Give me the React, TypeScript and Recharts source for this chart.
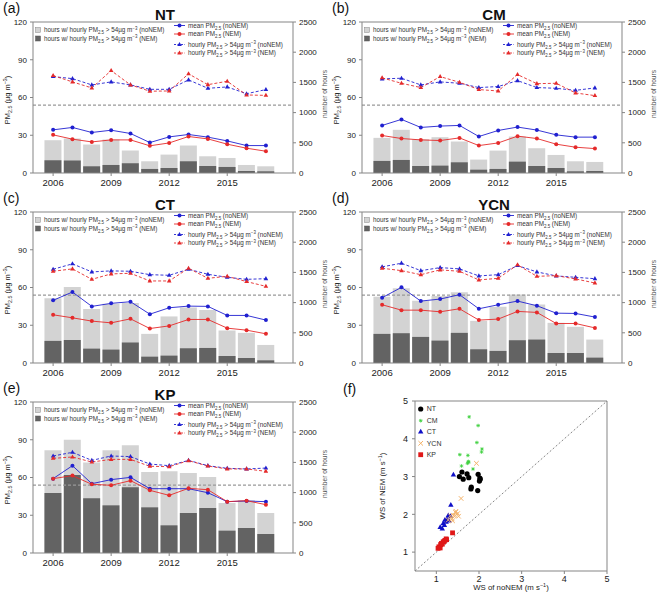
import React from 'react'
import {
  ComposedChart,
  Bar,
  Line,
  XAxis,
  YAxis,
  ReferenceLine,
  ScatterChart,
  Scatter,
} from 'recharts'

const YEARS = [2006, 2007, 2008, 2009, 2010, 2011, 2012, 2013, 2014, 2015, 2016, 2017]
const YEAR_TICKS = [2006, 2009, 2012, 2015]
const PM_TICKS = [0, 30, 60, 90, 120]
const HOUR_TICKS = [0, 500, 1000, 1500, 2000, 2500]
const WS_TICKS = [1, 2, 3, 4, 5]

// NT
const NT_MEAN_NONEM = [34.3, 36.2, 32.2, 34.0, 31.4, 24.2, 28.7, 30.6, 28.5, 25.5, 21.8, 21.8]
const NT_MEAN_NEM = [30.3, 26.9, 24.7, 26.3, 26.3, 21.6, 23.9, 29.0, 27.1, 22.9, 19.7, 17.3]
const NT_HOURLY_NONEM = [76.6, 75.0, 70.0, 72.4, 70.0, 66.5, 66.5, 74.0, 67.3, 68.4, 63.0, 66.3]
const NT_HOURLY_NEM = [77.4, 72.4, 67.6, 81.4, 70.0, 65.0, 65.2, 78.8, 70.2, 72.9, 62.0, 61.7]
const NT_HOURS_NONEM = [543, 571, 471, 554, 371, 194, 305, 455, 277, 249, 133, 111]
const NT_HOURS_NEM = [211, 205, 111, 133, 161, 67, 83, 194, 116, 100, 33, 28]

// CM
const CM_MEAN_NONEM = [37.8, 42.6, 36.2, 37.3, 37.8, 29.0, 33.8, 36.5, 34.1, 30.3, 28.5, 28.5]
const CM_MEAN_NEM = [29.8, 27.4, 26.3, 25.8, 27.9, 21.8, 23.9, 29.3, 27.4, 22.9, 20.5, 19.4]
const CM_HOURLY_NONEM = [74.8, 75.3, 70.0, 72.4, 71.3, 67.9, 68.7, 73.4, 67.9, 67.3, 65.7, 67.6]
const CM_HOURLY_NEM = [75.6, 71.3, 67.9, 76.6, 72.1, 66.3, 65.2, 78.2, 71.0, 71.3, 63.6, 61.5]
const CM_HOURS_NONEM = [582, 715, 560, 593, 521, 222, 371, 604, 410, 299, 194, 183]
const CM_HOURS_NEM = [200, 216, 116, 122, 177, 55, 67, 188, 116, 83, 28, 33]

// CT
const CT_MEAN_NONEM = [49.8, 56.4, 45.0, 47.4, 48.7, 38.8, 43.9, 45.2, 45.0, 37.8, 37.8, 34.1]
const CT_MEAN_NEM = [38.3, 35.9, 33.3, 31.9, 35.1, 27.4, 29.5, 34.6, 34.6, 27.7, 26.1, 23.2]
const CT_HOURLY_NONEM = [74.5, 78.8, 72.4, 73.2, 72.9, 70.2, 69.7, 74.5, 70.5, 68.1, 66.5, 67.0]
const CT_HOURLY_NEM = [72.9, 74.8, 66.5, 70.8, 71.3, 65.2, 65.2, 75.3, 67.3, 68.9, 64.7, 60.9]
const CT_HOURS_NONEM = [1070, 1258, 892, 981, 992, 482, 771, 920, 876, 538, 499, 299]
const CT_HOURS_NEM = [366, 382, 238, 222, 338, 105, 122, 244, 249, 116, 83, 44]

// YCN
const YCN_MEAN_NONEM = [51.9, 60.1, 49.2, 50.8, 54.3, 43.1, 46.3, 49.2, 45.5, 39.6, 39.4, 36.5]
const YCN_MEAN_NEM = [46.3, 42.0, 42.0, 40.7, 43.1, 34.1, 34.9, 41.0, 40.2, 31.4, 31.4, 27.9]
const YCN_HOURLY_NONEM = [76.4, 79.3, 73.4, 75.8, 74.8, 69.2, 70.2, 77.4, 72.4, 69.2, 68.1, 67.0]
const YCN_HOURLY_NEM = [75.3, 73.4, 70.2, 74.0, 72.9, 66.0, 67.3, 78.0, 68.9, 69.4, 66.8, 63.6]
const YCN_HOURS_NONEM = [1098, 1236, 1031, 1109, 1170, 698, 931, 1136, 970, 665, 599, 388]
const YCN_HOURS_NEM = [482, 493, 432, 371, 499, 227, 200, 377, 388, 166, 166, 89]

// KP
const KP_MEAN_NONEM = [59.1, 69.4, 55.1, 58.3, 60.1, 51.1, 51.1, 51.1, 47.9, 40.8, 41.3, 40.8]
const KP_MEAN_NEM = [59.1, 61.5, 54.6, 53.8, 57.5, 49.8, 45.8, 51.4, 50.3, 40.8, 41.6, 38.4]
const KP_HOURLY_NONEM = [77.1, 80.0, 73.6, 77.1, 76.6, 70.7, 69.4, 73.6, 69.4, 67.3, 66.8, 67.5]
const KP_HOURLY_NEM = [75.2, 76.3, 72.3, 74.4, 74.4, 68.9, 68.6, 73.4, 69.1, 66.8, 66.8, 64.9]
const KP_HOURS_NONEM = [1700, 1876, 1500, 1700, 1782, 1341, 1352, 1325, 1258, 828, 872, 662]
const KP_HOURS_NEM = [993, 1291, 905, 789, 1087, 756, 458, 662, 745, 370, 414, 315]

// wind speed, (f)
const NT_WS_NONEM = [1.6, 1.54, 1.63, 1.72, 1.76, 1.98, 2.02, 2.01, 1.82, 1.81, 1.97, 2.03]
const NT_WS_NEM = [3.12, 3.0, 2.93, 3.07, 2.97, 3.06, 2.96, 2.88, 2.72, 2.67, 2.63, 2.93]
const CM_WS_NONEM = [1.77, 1.98, 1.95, 2.07, 2.06, 1.55, 1.74, 1.75, 1.73, 1.59, 1.86, 1.76]
const CM_WS_NEM = [4.58, 4.35, 3.9, 3.73, 3.65, 3.58, 3.56, 3.4, 3.35, 3.28, 3.2, 3.38]
const CT_WS_NONEM = [1.4, 1.34, 1.28, 1.33, 1.2, 1.16, 1.19, 1.09, 1.14, 1.25, 1.23, 1.3]
const CT_WS_NEM = [3.05, 2.25, 1.97, 1.95, 1.85, 1.76, 1.71, 1.66, 1.62, 1.87, 1.8, 1.83]
const YCN_WS_NONEM = [1.94, 1.58, 1.46, 1.5, 1.4, 1.52, 1.37, 1.38, 1.44, 1.33, 1.45, 1.28]
const YCN_WS_NEM = [3.35, 2.42, 2.08, 2.02, 1.97, 1.95, 1.88, 1.83, 1.97, 1.96, 2.05, 1.85]
const KP_WS_NONEM = [1.38, 1.23, 1.2, 1.16, 1.12, 1.1, 1.06, 1.09, 1.14, 1.18, 1.24, 1.04]
const KP_WS_NEM = [1.51, 1.35, 1.31, 1.27, 1.23, 1.2, 1.14, 1.11, 1.21, 1.28, 1.33, 1.1]

const BLUE = '#2020d0'
const RED = '#e52a2a'
const LIGHT = '#d3d3d3'
const DARK = '#636363'
const AXIS = '#858585'
const TXT = '#222'

const rowsOf = (mNo: number[], mNem: number[], hNo: number[], hNem: number[], nNo: number[], nNem: number[]) =>
  YEARS.map((year, i) => ({
    year,
    meanNo: mNo[i],
    meanNem: mNem[i],
    hourlyNo: hNo[i],
    hourlyNem: hNem[i],
    hoursNo: nNo[i],
    hoursNem: nNem[i],
  }))

const pairs = (xs: number[], ys: number[]) => xs.map((x, i) => ({ x, y: ys[i] }))

// text pieces: [text, 'n' | 'sub' | 'sup'] -> tspans with baseline shifts
type Piece = [string, 'n' | 'sub' | 'sup']
function rich(parts: Piece[], fs: number) {
  let cur = 0
  return parts.map(([t, k], i) => {
    const target = k === 'sub' ? fs * 0.28 : k === 'sup' ? -fs * 0.38 : 0
    const dy = target - cur
    cur = target
    return (
      <tspan key={i} dy={dy} fontSize={k === 'n' ? fs : fs * 0.7}>
        {t}
      </tspan>
    )
  })
}

const triDot = (color: string) => (p: any) => (
  <path
    key={p.index}
    d={`M${p.cx},${p.cy - 2.6}L${p.cx + 2.3},${p.cy + 1.5}L${p.cx - 2.3},${p.cy + 1.5}Z`}
    fill={color}
  />
)

function Panel({ left, top, rows }: { left: number; top: number; rows: any[] }) {
  const tick = { fontSize: 8, fill: TXT }
  return (
    <div style={{ position: 'absolute', left, top }}>
      <ComposedChart
        width={329}
        height={190}
        data={rows}
        margin={{ top: 22, right: 0, bottom: 0, left: 0 }}
        barSize={17}
        barGap={-17}
      >
        <XAxis
          dataKey="year"
          type="number"
          domain={[2004.96, 2018.4]}
          ticks={YEAR_TICKS}
          allowDataOverflow
          height={17}
          tickSize={3}
          tickMargin={3}
          stroke={AXIS}
          tick={{ fontSize: 9.5, fill: TXT }}
        />
        <YAxis
          yAxisId="pm"
          domain={[0, 120]}
          ticks={PM_TICKS}
          width={33}
          tickSize={3}
          tickMargin={3}
          stroke={AXIS}
          tick={tick}
        />
        <YAxis
          yAxisId="hr"
          orientation="right"
          domain={[0, 2500]}
          ticks={HOUR_TICKS}
          width={36}
          tickSize={3}
          tickMargin={3}
          stroke={AXIS}
          tick={tick}
        />
        <Bar yAxisId="hr" dataKey="hoursNo" fill={LIGHT} isAnimationActive={false} />
        <Bar yAxisId="hr" dataKey="hoursNem" fill={DARK} isAnimationActive={false} />
        <ReferenceLine yAxisId="pm" y={54} stroke="#999" strokeDasharray="3 2" strokeWidth={1.2} />
        <ReferenceLine yAxisId="pm" y={120} stroke={AXIS} />
        <Line
          yAxisId="pm"
          dataKey="hourlyNo"
          stroke={BLUE}
          strokeWidth={0.9}
          strokeDasharray="3 2"
          dot={triDot(BLUE)}
          isAnimationActive={false}
        />
        <Line
          yAxisId="pm"
          dataKey="hourlyNem"
          stroke={RED}
          strokeWidth={0.9}
          strokeDasharray="3 2"
          dot={triDot(RED)}
          isAnimationActive={false}
        />
        <Line
          yAxisId="pm"
          dataKey="meanNo"
          stroke={BLUE}
          strokeWidth={0.9}
          dot={{ r: 2, fill: BLUE, stroke: 'none' }}
          isAnimationActive={false}
        />
        <Line
          yAxisId="pm"
          dataKey="meanNem"
          stroke={RED}
          strokeWidth={0.9}
          dot={{ r: 2, fill: RED, stroke: 'none' }}
          isAnimationActive={false}
        />
      </ComposedChart>
    </div>
  )
}

function PanelText({ ox, oy, letter, title }: { ox: number; oy: number; letter: string; title: string }) {
  const fs = 6.3
  const hoursLabel = (tail: string): Piece[] => [
    ['hours w/ hourly PM', 'n'],
    ['2.5', 'sub'],
    [' > 54µg m', 'n'],
    ['−3', 'sup'],
    [tail, 'n'],
  ]
  const l2 = [
    { y: 25.5, c: BLUE, dash: false, parts: [['mean PM', 'n'], ['2.5', 'sub'], [' (noNEM)', 'n']] as Piece[] },
    { y: 34, c: RED, dash: false, parts: [['mean PM', 'n'], ['2.5', 'sub'], [' (NEM)', 'n']] as Piece[] },
    {
      y: 44.5,
      c: BLUE,
      dash: true,
      parts: [['hourly PM', 'n'], ['2.5', 'sub'], [' > 54µg m', 'n'], ['−3', 'sup'], [' (noNEM)', 'n']] as Piece[],
    },
    {
      y: 53,
      c: RED,
      dash: true,
      parts: [['hourly PM', 'n'], ['2.5', 'sub'], [' > 54µg m', 'n'], ['−3', 'sup'], [' (NEM)', 'n']] as Piece[],
    },
  ]
  return (
    <g style={{ whiteSpace: 'pre' }}>
      <text x={ox + 3} y={oy + 13} fontSize={14} fill="#111">{letter}</text>
      <text x={ox + 165} y={oy + 20} fontSize={15} fontWeight="bold" textAnchor="middle" fill="#111">
        {title}
      </text>
      <text transform={`translate(${ox + 10},${oy + 100}) rotate(-90)`} textAnchor="middle" fill={TXT}>
        {rich([['PM', 'n'], ['2.5', 'sub'], [' (µg m', 'n'], ['−3', 'sup'], [')', 'n']], 7.5)}
      </text>
      <text transform={`translate(${ox + 327},${oy + 94}) rotate(-90)`} textAnchor="middle" fontSize={6.6} fill="#555">
        number of hours
      </text>
      <rect x={ox + 35.5} y={oy + 27.5} width={5} height={5} fill={LIGHT} stroke="#888" strokeWidth={0.5} />
      <rect x={ox + 35.5} y={oy + 36} width={5} height={5} fill={DARK} stroke="#555" strokeWidth={0.5} />
      <text x={ox + 44} y={oy + 32.3} fill="#333">
        {rich(hoursLabel(' (noNEM)'), fs)}
      </text>
      <text x={ox + 44} y={oy + 40.8} fill="#333">
        {rich(hoursLabel(' (NEM)'), fs)}
      </text>
      {l2.map((r) => (
        <g key={r.y}>
          <line
            x1={ox + 174}
            x2={ox + 185}
            y1={oy + r.y}
            y2={oy + r.y}
            stroke={r.c}
            strokeWidth={0.9}
            strokeDasharray={r.dash ? '2 1.5' : undefined}
          />
          {r.dash ? (
            <path
              d={`M${ox + 179.5},${oy + r.y - 2.5}L${ox + 181.8},${oy + r.y + 1.5}L${ox + 177.2},${oy + r.y + 1.5}Z`}
              fill={r.c}
            />
          ) : (
            <circle cx={ox + 179.5} cy={oy + r.y} r={2} fill={r.c} />
          )}
          <text x={ox + 188} y={oy + r.y + 2.3} fill="#333">
            {rich(r.parts, fs)}
          </text>
        </g>
      ))}
    </g>
  )
}

const circleShape = (p: any) => <circle cx={p.cx} cy={p.cy} r={2.6} fill="#000" />
const starShape = (p: any) => (
  <g stroke="#3fd03f" strokeWidth={0.8}>
    <line x1={p.cx - 1.8} x2={p.cx + 1.8} y1={p.cy} y2={p.cy} />
    <line x1={p.cx} x2={p.cx} y1={p.cy - 1.8} y2={p.cy + 1.8} />
    <line x1={p.cx - 1.3} x2={p.cx + 1.3} y1={p.cy - 1.3} y2={p.cy + 1.3} />
    <line x1={p.cx - 1.3} x2={p.cx + 1.3} y1={p.cy + 1.3} y2={p.cy - 1.3} />
  </g>
)
const triShape = (p: any) => (
  <path d={`M${p.cx},${p.cy - 3}L${p.cx + 2.7},${p.cy + 1.8}L${p.cx - 2.7},${p.cy + 1.8}Z`} fill="#1010c8" />
)
const crossShape = (p: any) => (
  <g stroke="#f4b36a" strokeWidth={1}>
    <line x1={p.cx - 2.3} x2={p.cx + 2.3} y1={p.cy - 2.3} y2={p.cy + 2.3} />
    <line x1={p.cx - 2.3} x2={p.cx + 2.3} y1={p.cy + 2.3} y2={p.cy - 2.3} />
  </g>
)
const squareShape = (p: any) => <rect x={p.cx - 2.4} y={p.cy - 2.4} width={4.8} height={4.8} fill="#e01818" />

function WindPanel() {
  const tick = { fontSize: 9, fill: TXT }
  return (
    <div style={{ position: 'absolute', left: 329, top: 380 }}>
      <ScatterChart width={330} height={213} margin={{ top: 21, right: 52, bottom: 0, left: 0 }}>
        <XAxis
          dataKey="x"
          type="number"
          domain={[0.5, 5]}
          ticks={WS_TICKS}
          allowDataOverflow
          height={22}
          tickSize={3}
          tickMargin={2}
          stroke={AXIS}
          tick={tick}
        />
        <YAxis
          dataKey="y"
          type="number"
          domain={[0.5, 5]}
          ticks={WS_TICKS}
          allowDataOverflow
          width={86}
          tickSize={3}
          tickMargin={4}
          stroke={AXIS}
          tick={tick}
        />
        <ReferenceLine y={5} stroke={AXIS} />
        <ReferenceLine x={5} stroke={AXIS} />
        <ReferenceLine
          segment={[
            { x: 0.5, y: 0.5 },
            { x: 5, y: 5 },
          ]}
          stroke="#666"
          strokeDasharray="2 2"
          strokeWidth={0.8}
        />
        <Scatter data={pairs(NT_WS_NONEM, NT_WS_NEM)} shape={circleShape} isAnimationActive={false} />
        <Scatter data={pairs(CM_WS_NONEM, CM_WS_NEM)} shape={starShape} isAnimationActive={false} />
        <Scatter data={pairs(CT_WS_NONEM, CT_WS_NEM)} shape={triShape} isAnimationActive={false} />
        <Scatter data={pairs(YCN_WS_NONEM, YCN_WS_NEM)} shape={crossShape} isAnimationActive={false} />
        <Scatter data={pairs(KP_WS_NONEM, KP_WS_NEM)} shape={squareShape} isAnimationActive={false} />
      </ScatterChart>
    </div>
  )
}

function WindText() {
  const items = [
    { y: 409, t: 'NT', s: circleShape },
    { y: 420.7, t: 'CM', s: starShape },
    { y: 431.7, t: 'CT', s: triShape },
    { y: 443.3, t: 'YCN', s: crossShape },
    { y: 454.7, t: 'KP', s: squareShape },
  ]
  return (
    <g style={{ whiteSpace: 'pre' }}>
      <text x={343} y={394} fontSize={14} fill="#111">(f)</text>
      {items.map((it) => (
        <g key={it.t}>
          {it.s({ cx: 420.7, cy: it.y })}
          <text x={426.7} y={it.y + 2.4} fontSize={7} fill="#333">{it.t}</text>
        </g>
      ))}
      <text x={511} y={590} textAnchor="middle" fill={TXT}>
        {rich([['WS of noNEM (m s', 'n'], ['−1', 'sup'], [')', 'n']], 7.8)}
      </text>
      <text transform="translate(385,486) rotate(-90)" textAnchor="middle" fill={TXT}>
        {rich([['WS of NEM (m s', 'n'], ['−1', 'sup'], [')', 'n']], 7.8)}
      </text>
    </g>
  )
}

const PANELS = [
  { ox: 0, oy: 0, letter: '(a)', title: 'NT', rows: rowsOf(NT_MEAN_NONEM, NT_MEAN_NEM, NT_HOURLY_NONEM, NT_HOURLY_NEM, NT_HOURS_NONEM, NT_HOURS_NEM) },
  { ox: 329, oy: 0, letter: '(b)', title: 'CM', rows: rowsOf(CM_MEAN_NONEM, CM_MEAN_NEM, CM_HOURLY_NONEM, CM_HOURLY_NEM, CM_HOURS_NONEM, CM_HOURS_NEM) },
  { ox: 0, oy: 190, letter: '(c)', title: 'CT', rows: rowsOf(CT_MEAN_NONEM, CT_MEAN_NEM, CT_HOURLY_NONEM, CT_HOURLY_NEM, CT_HOURS_NONEM, CT_HOURS_NEM) },
  { ox: 329, oy: 190, letter: '(d)', title: 'YCN', rows: rowsOf(YCN_MEAN_NONEM, YCN_MEAN_NEM, YCN_HOURLY_NONEM, YCN_HOURLY_NEM, YCN_HOURS_NONEM, YCN_HOURS_NEM) },
  { ox: 0, oy: 380, letter: '(e)', title: 'KP', rows: rowsOf(KP_MEAN_NONEM, KP_MEAN_NEM, KP_HOURLY_NONEM, KP_HOURLY_NEM, KP_HOURS_NONEM, KP_HOURS_NEM) },
]

export default function App() {
  return (
    <div
      style={{
        position: 'absolute',
        left: 0,
        top: 0,
        width: 659,
        height: 593,
        background: '#fff',
        overflow: 'hidden',
        fontFamily: '"Liberation Sans", Arial, sans-serif',
      }}
    >
      {PANELS.map((p) => (
        <Panel key={p.letter} left={p.ox} top={p.oy} rows={p.rows} />
      ))}
      <WindPanel />
      <svg width={659} height={593} style={{ position: 'absolute', left: 0, top: 0, pointerEvents: 'none' }}>
        {PANELS.map((p) => (
          <PanelText key={p.letter} ox={p.ox} oy={p.oy} letter={p.letter} title={p.title} />
        ))}
        <WindText />
      </svg>
    </div>
  )
}
